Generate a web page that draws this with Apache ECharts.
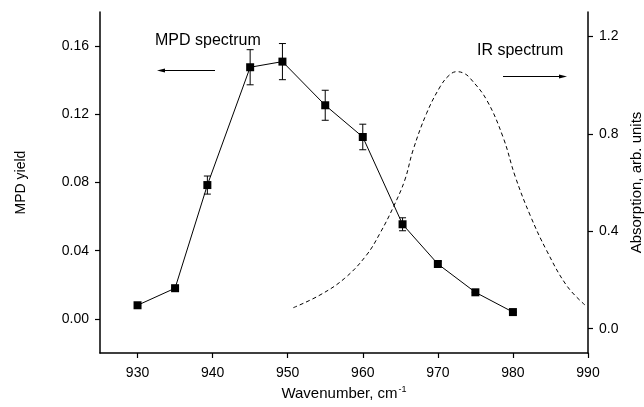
<!DOCTYPE html>
<html>
<head>
<meta charset="utf-8">
<script src="https://cdn.jsdelivr.net/npm/echarts@6/dist/echarts.min.js"></script>
<style>
  html, body { margin: 0; padding: 0; background: #fff; }
  #chart { width: 644px; height: 407px; }
</style>
</head>
<body>
<div id="chart"></div>
<script>
// MPD spectrum (left axis)
var mpdX = [930, 935, 939.3, 945, 949.3, 955, 960, 965.3, 970, 975, 980];
var mpdY = [0.008, 0.018, 0.0785, 0.1476, 0.1509, 0.1253, 0.1067, 0.0555, 0.0322, 0.0156, 0.004];
var mpdErr = [0, 0, 0.0053, 0.0103, 0.0106, 0.0088, 0.0075, 0.0038, 0.0015, 0, 0];

// IR spectrum (right axis)
var irX = [950.75, 954.3, 957.6, 960.5, 962.3, 964.1, 965.6, 966.7, 968.5, 970.3, 971.5, 972.5, 973.5, 974.3, 976.5, 978.7, 980.3, 982.3, 984.5, 987.2, 989.6];
var irY = [0.086, 0.138, 0.207, 0.302, 0.392, 0.501, 0.610, 0.733, 0.884, 0.993, 1.040, 1.055, 1.048, 1.028, 0.939, 0.785, 0.625, 0.465, 0.320, 0.175, 0.097];

// tick labels
var xTicks = [930, 940, 950, 960, 970, 980, 990];
var leftTicks = [0, 0.04, 0.08, 0.12, 0.16];
var rightTicks = [0, 0.4, 0.8, 1.2];

var font = "'Liberation Sans', Arial, sans-serif";

var chart = echarts.init(document.getElementById("chart"));

function axisBase() {
  return {
    axisLine: { show: true, onZero: false, lineStyle: { color: "#000", width: 1.5 } },
    axisTick: { show: true, inside: false, length: 5, lineStyle: { color: "#000", width: 1.2 } },
    splitLine: { show: false },
    axisLabel: { color: "#000", fontSize: 14, fontFamily: font }
  };
}

var xAxis = axisBase();
xAxis.type = "value";
xAxis.min = 925;
xAxis.max = 990;
xAxis.axisTick.customValues = xTicks;
xAxis.axisLabel.customValues = xTicks;
xAxis.axisLabel.margin = 13;
xAxis.name = "{a|Wavenumber, cm}{s|-1}";
xAxis.nameLocation = "middle";
xAxis.nameGap = 32;
xAxis.nameTextStyle = {
  rich: {
    a: { fontSize: 15, fontFamily: font, color: "#000" },
    s: { fontSize: 9, fontFamily: font, color: "#000", verticalAlign: "top", padding: [0, 0, 8, 1] }
  }
};

var yLeft = axisBase();
yLeft.type = "value";
yLeft.position = "left";
yLeft.min = -0.02;
yLeft.max = 0.18;
yLeft.axisTick.customValues = leftTicks;
yLeft.axisLabel.customValues = leftTicks;
yLeft.axisLabel.margin = 11;
yLeft.axisLabel.formatter = function (v) { return v.toFixed(2); };
yLeft.name = "MPD yield";
yLeft.nameLocation = "middle";
yLeft.nameGap = 72;
yLeft.nameTextStyle = { fontSize: 14, fontFamily: font, color: "#000" };

var yRight = axisBase();
yRight.type = "value";
yRight.position = "right";
yRight.min = -0.1;
yRight.max = 1.3;
yRight.axisTick.customValues = rightTicks;
yRight.axisLabel.customValues = rightTicks;
yRight.axisLabel.margin = 11;
yRight.axisLabel.formatter = function (v) { return v.toFixed(1); };
yRight.name = "Absorption, arb. units";
yRight.nameLocation = "middle";
yRight.nameGap = 37;
yRight.nameRotate = 90;
yRight.nameTextStyle = { fontSize: 15, fontFamily: font, color: "#000" };

var mpdData = mpdX.map(function (x, i) { return [x, mpdY[i]]; });
var errData = mpdX.map(function (x, i) { return [x, mpdY[i], mpdErr[i]]; });
var irData = irX.map(function (x, i) { return [x, irY[i]]; });

var option = {
  backgroundColor: "#fff",
  animation: false,
  grid: { left: 100, right: 56, top: 12, bottom: 54, outerBoundsMode: "none", containLabel: false },
  xAxis: xAxis,
  yAxis: [yLeft, yRight],
  series: [
    {
      // error bars
      type: "custom",
      yAxisIndex: 0,
      z: 2,
      data: errData,
      encode: { x: 0, y: 1 },
      renderItem: function (params, api) {
        var x = api.value(0), y = api.value(1), e = api.value(2);
        var top = api.coord([x, y + e]);
        var bot = api.coord([x, y - e]);
        var w = 3.5;
        var st = { stroke: "#000", lineWidth: 1 };
        return {
          type: "group",
          children: [
            { type: "line", shape: { x1: top[0], y1: top[1], x2: bot[0], y2: bot[1] }, style: st },
            { type: "line", shape: { x1: top[0] - w, y1: top[1], x2: top[0] + w, y2: top[1] }, style: st },
            { type: "line", shape: { x1: bot[0] - w, y1: bot[1], x2: bot[0] + w, y2: bot[1] }, style: st }
          ]
        };
      }
    },
    {
      name: "MPD spectrum",
      type: "line",
      yAxisIndex: 0,
      z: 3,
      data: mpdData,
      symbol: "rect",
      symbolSize: 8,
      itemStyle: { color: "#000" },
      lineStyle: { color: "#000", width: 1 }
    },
    {
      name: "IR spectrum",
      type: "line",
      yAxisIndex: 1,
      z: 1,
      data: irData,
      smooth: 0.4,
      symbol: "none",
      lineStyle: { color: "#000", width: 1, type: [4, 3] }
    }
  ],
  graphic: [
    { type: "text", left: 155, top: 33, style: { text: "MPD spectrum", fontSize: 16, fontFamily: font, fill: "#000" } },
    { type: "line", shape: { x1: 164, y1: 70.5, x2: 215, y2: 70.5 }, style: { stroke: "#000", lineWidth: 1 } },
    { type: "polygon", shape: { points: [[157, 70.5], [165, 68.5], [165, 72.5]] }, style: { fill: "#000" } },
    { type: "text", left: 477, top: 43, style: { text: "IR spectrum", fontSize: 16, fontFamily: font, fill: "#000" } },
    { type: "line", shape: { x1: 503, y1: 76.5, x2: 560, y2: 76.5 }, style: { stroke: "#000", lineWidth: 1 } },
    { type: "polygon", shape: { points: [[567, 76.5], [559, 74.5], [559, 78.5]] }, style: { fill: "#000" } }
  ]
};

chart.setOption(option);
</script>
</body>
</html>
